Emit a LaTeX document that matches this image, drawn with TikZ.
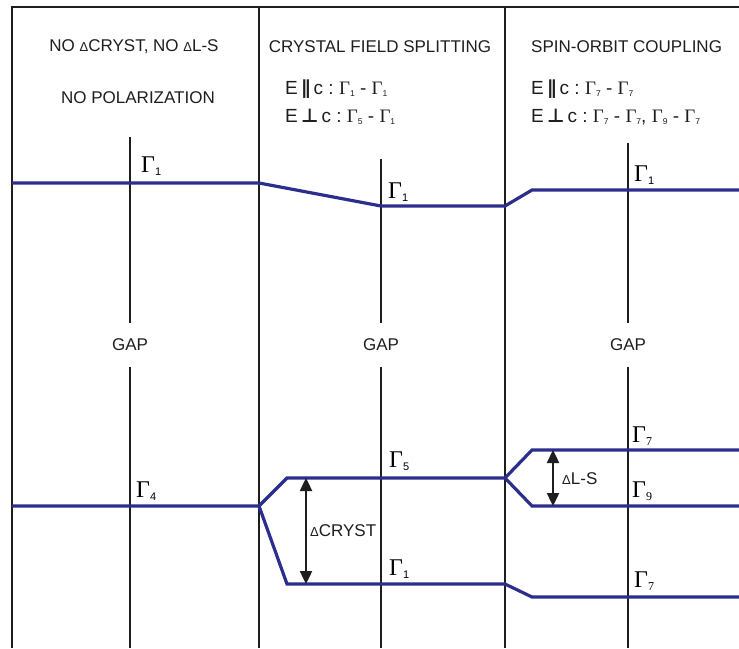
\documentclass[tikz,border=0pt]{standalone}
\usepackage{fontspec}
\setmainfont{Liberation Sans}
\newfontfamily\gfont{Liberation Serif}
\newfontfamily\symb{DejaVu Sans Bold}
\usetikzlibrary{arrows.meta}
\definecolor{lvl}{RGB}{43,46,140}
\definecolor{ink}{RGB}{30,30,30}
\newcommand{\Lg}[1]{{\gfont\fontsize{24}{24}\selectfont Γ}\raisebox{-3pt}{\fontsize{11}{11}\selectfont #1}}
\newcommand{\Lgs}[1]{{\gfont\fontsize{24}{24}\selectfont Γ\raisebox{-3pt}{\fontsize{12}{12}\selectfont #1}}}
\newcommand{\Hg}[1]{{\gfont\fontsize{19}{19}\selectfont Γ}\raisebox{-2.5pt}{\fontsize{8.5}{8.5}\selectfont #1}}
\newcommand{\dlt}{{\fontsize{13}{13}\selectfont Δ}}
\newcommand{\Epar}{E\,{\symb ∥}\,c\ :\ }
\newcommand{\Eperp}{E\,{\symb ⊥}\,c\ :\ }
\begin{document}
\begin{tikzpicture}[x=1pt,y=-1pt,
  frame/.style={line width=2.2pt, ink},
  axis/.style={line width=2pt, ink},
  level/.style={line width=3.2pt, lvl, line join=miter},
  gam/.style={anchor=base west, inner sep=0pt},
  lab/.style={font=\fontsize{17}{17}\selectfont, inner sep=0pt, text=ink},
  erow/.style={font=\fontsize{19}{19}\selectfont, anchor=base west, inner sep=0pt, text=ink},
  dim/.style={line width=2.4pt, ink, {Triangle[width=12pt,length=13pt]}-{Triangle[width=12pt,length=13pt]}}]
\useasboundingbox (0,0) rectangle (739,648);
% frame
\coordinate (tl) at (12,7); \coordinate (tr) at (739,7); \coordinate (bl) at (12,648);
\coordinate (d1t) at (259,7); \coordinate (d1b) at (259,648);
\coordinate (d2t) at (505,7); \coordinate (d2b) at (505,648);
\draw[frame] (tr) -- (tl) -- (bl);
\draw[frame] (d1t) -- (d1b);
\draw[frame] (d2t) -- (d2b);
% axes
\coordinate (a1t) at (130,137); \coordinate (a1m) at (130,323); \coordinate (a1n) at (130,367); \coordinate (a1b) at (130,648);
\coordinate (a2t) at (381,159); \coordinate (a2m) at (381,323); \coordinate (a2n) at (381,367); \coordinate (a2b) at (381,648);
\coordinate (a3t) at (628,143); \coordinate (a3m) at (628,323); \coordinate (a3n) at (628,367); \coordinate (a3b) at (628,648);
\draw[axis] (a1t) -- (a1m) (a1n) -- (a1b);
\draw[axis] (a2t) -- (a2m) (a2n) -- (a2b);
\draw[axis] (a3t) -- (a3m) (a3n) -- (a3b);
% levels
\coordinate (u0) at (12,183); \coordinate (u1) at (259,183); \coordinate (u2) at (381,206);
\coordinate (u3) at (505,206); \coordinate (u4) at (532,190); \coordinate (u5) at (739,190);
\draw[level] (u0) -- (u1) -- (u2) -- (u3) -- (u4) -- (u5);
\coordinate (l0) at (12,506); \coordinate (l1) at (259,506); \coordinate (l2) at (287,478);
\coordinate (l3) at (505,478); \coordinate (l4) at (532,450); \coordinate (l5) at (739,450);
\coordinate (m2) at (287,584); \coordinate (m3) at (505,584); \coordinate (m4) at (532,597); \coordinate (m5) at (739,597);
\coordinate (n4) at (532,506); \coordinate (n5) at (739,506);
\draw[level] (l0) -- (l1) -- (l2) -- (l3) -- (l4) -- (l5);
\draw[level] (l1) -- (m2) -- (m3) -- (m4) -- (m5);
\draw[level] (l3) -- (n4) -- (n5);
% dimension arrows
\coordinate (c1) at (306,478); \coordinate (c2) at (306,584);
\draw[dim] (c1) -- (c2);
\node[lab, anchor=west] (dc) at (310,531) {\dlt CRYST};
\coordinate (s1) at (553,450); \coordinate (s2) at (553,506);
\draw[dim] (s1) -- (s2);
\node[lab, anchor=west] (ds) at (562,479) {\dlt L-S};
% GAP
\node[lab] (g1) at (130,345) {GAP};
\node[lab] (g2) at (381,345) {GAP};
\node[lab] (g3) at (628,345) {GAP};
% gamma labels
\node[gam] (t1) at (141,172) {\Lg{1}};
\node[gam] (t4) at (136,497) {\Lg{4}};
\node[gam] (t2) at (388,198) {\Lg{1}};
\node[gam] (t5) at (389,467) {\Lg{5}};
\node[gam] (t6) at (389,575) {\Lg{1}};
\node[gam] (t3) at (634,181) {\Lg{1}};
\node[gam] (t7) at (632,442) {\Lgs{7}};
\node[gam] (t9) at (632,497) {\Lgs{9}};
\node[gam] (t8) at (634,587) {\Lgs{7}};
% headers
\node[lab] (h1) at (134,47) {NO \dlt CRYST, NO \dlt L-S};
\node[lab] (h2) at (138,98) {NO POLARIZATION};
\node[lab] (h3) at (380,47) {CRYSTAL FIELD SPLITTING};
\node[lab, anchor=west] (h4) at (531,47) {SPIN-ORBIT COUPLING};
\node[erow] (e1) at (285,94) {\Epar\Hg{1} - \Hg{1}};
\node[erow] (e2) at (285,122) {\Eperp\Hg{5} - \Hg{1}};
\node[erow] (e3) at (531,94) {\Epar\Hg{7} - \Hg{7}};
\node[erow] (e4) at (531,122) {\Eperp\Hg{7} - \Hg{7}, \Hg{9} - \Hg{7}};
\end{tikzpicture}
\end{document}
